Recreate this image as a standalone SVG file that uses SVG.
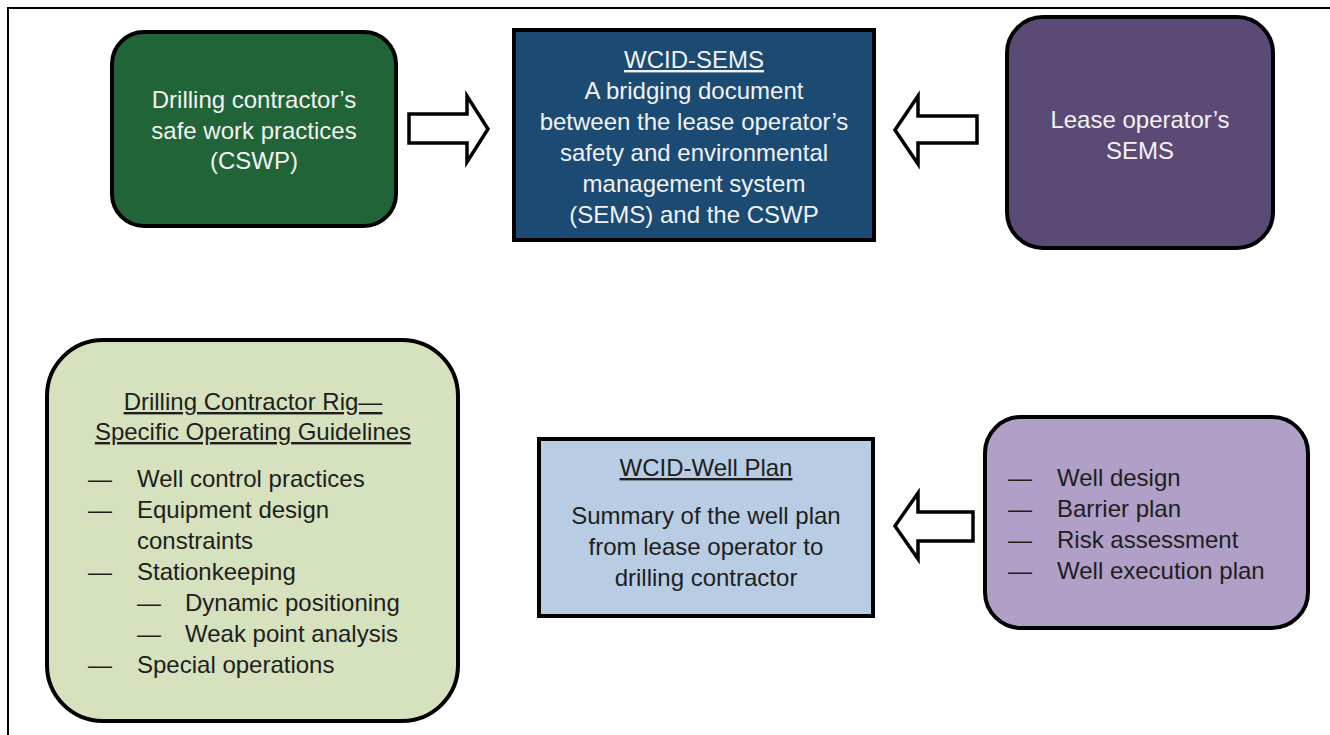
<svg xmlns="http://www.w3.org/2000/svg" width="1330" height="735" viewBox="0 0 1330 735">
<style>
  text { font-family: "Liberation Sans", Arial, sans-serif; font-size: 24px; }
  .lt { fill: #f2f2f2; }
  .dk { fill: #1e1e1e; }
  .c { text-anchor: middle; }
  .u { text-decoration: underline; }
  .box { stroke: #000; stroke-width: 4; }
  .arrow { fill: #fff; stroke: #000; stroke-width: 3.5; stroke-linejoin: miter; }
  .frame { stroke: #000; stroke-width: 2; fill: none; }
</style>
<rect width="1330" height="735" fill="#fff"/>
<path class="frame" d="M8,735 L8,8 L1330,8"/>

<g id="cswp">
  <rect class="box" x="112" y="32" width="284" height="194" rx="32" fill="#216437"/>
  <text class="lt c" x="254" y="108">Drilling contractor’s</text>
  <text class="lt c" x="254" y="139">safe work practices</text>
  <text class="lt c" x="254" y="169">(CSWP)</text>
</g>

<g id="wcid-sems">
  <rect class="box" x="514" y="30" width="360" height="210" fill="#1b4a73"/>
  <text class="lt c u" x="694" y="68">WCID-SEMS</text>
  <text class="lt c" x="694" y="99">A bridging document</text>
  <text class="lt c" x="694" y="130">between the lease operator’s</text>
  <text class="lt c" x="694" y="161">safety and environmental</text>
  <text class="lt c" x="694" y="192">management system</text>
  <text class="lt c" x="694" y="223">(SEMS) and the CSWP</text>
</g>

<g id="lease-sems">
  <rect class="box" x="1007" y="17" width="266" height="231" rx="36" fill="#5c4a76"/>
  <text class="lt c" x="1140" y="128">Lease operator’s</text>
  <text class="lt c" x="1140" y="159">SEMS</text>
</g>

<g id="rig-guidelines">
  <rect class="box" x="47" y="340" width="411" height="381" rx="56" fill="#d6e1bd"/>
  <text class="dk c u" x="253" y="410">Drilling Contractor Rig—</text>
  <text class="dk c u" x="253" y="440">Specific Operating Guidelines</text>
  <text class="dk" x="88" y="487">—</text><text class="dk" x="137" y="487">Well control practices</text>
  <text class="dk" x="88" y="518">—</text><text class="dk" x="137" y="518">Equipment design</text>
  <text class="dk" x="137" y="549">constraints</text>
  <text class="dk" x="88" y="580">—</text><text class="dk" x="137" y="580">Stationkeeping</text>
  <text class="dk" x="137" y="611">—</text><text class="dk" x="185" y="611">Dynamic positioning</text>
  <text class="dk" x="137" y="642">—</text><text class="dk" x="185" y="642">Weak point analysis</text>
  <text class="dk" x="88" y="673">—</text><text class="dk" x="137" y="673">Special operations</text>
</g>

<g id="wcid-well-plan">
  <rect class="box" x="539" y="439" width="334" height="177" fill="#b8cde3"/>
  <text class="dk c u" x="706" y="476">WCID-Well Plan</text>
  <text class="dk c" x="706" y="524">Summary of the well plan</text>
  <text class="dk c" x="706" y="555">from lease operator to</text>
  <text class="dk c" x="706" y="586">drilling contractor</text>
</g>

<g id="well-items">
  <rect class="box" x="985" y="417" width="323" height="211" rx="36" fill="#b09fc6"/>
  <text class="dk" x="1008" y="486">—</text><text class="dk" x="1057" y="486">Well design</text>
  <text class="dk" x="1008" y="517">—</text><text class="dk" x="1057" y="517">Barrier plan</text>
  <text class="dk" x="1008" y="548">—</text><text class="dk" x="1057" y="548">Risk assessment</text>
  <text class="dk" x="1008" y="579">—</text><text class="dk" x="1057" y="579">Well execution plan</text>
</g>

<g id="connectors">
  <path class="arrow" d="M409,114 L467,114 L467,96 L488,129 L467,162 L467,143 L409,143 Z"/>
  <path class="arrow" d="M977,116 L918,116 L918,96 L895,130 L918,164 L918,143 L977,143 Z"/>
  <path class="arrow" d="M973,512 L918,512 L918,493 L895,526 L918,559 L918,541 L973,541 Z"/>
</g>
</svg>
